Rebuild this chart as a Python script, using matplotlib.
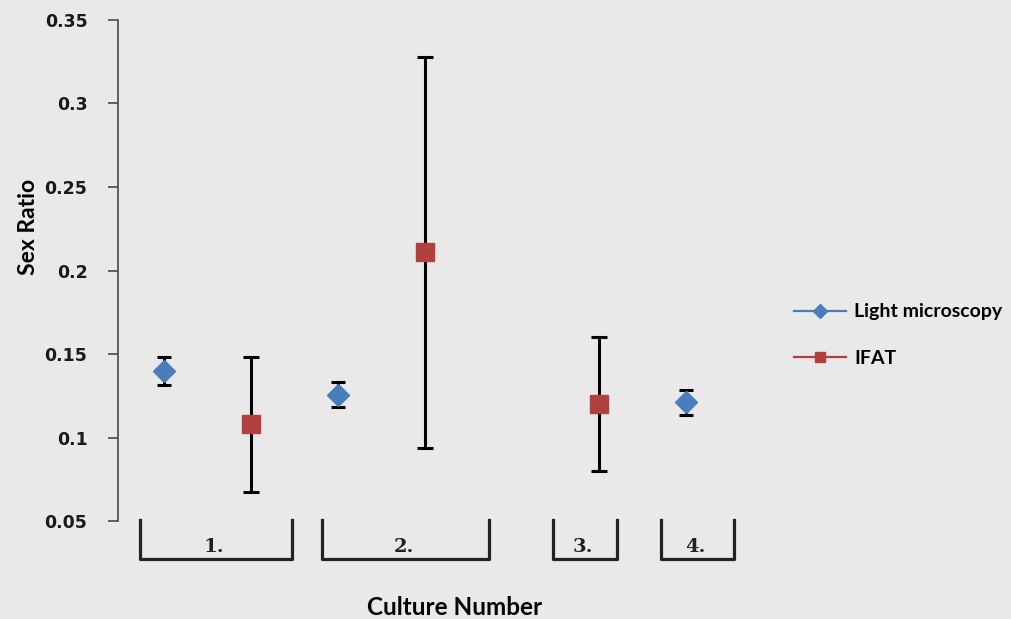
import numpy as np
import matplotlib
matplotlib.use('Agg')
from matplotlib import pyplot as plt

# chart data (blank cells -> nan, like the spreadsheet)
cultures = [1, 2, 3, 4, 5, 6, 7]
light = [0.140, np.nan, 0.1255, np.nan, np.nan, np.nan, 0.121]
light_err = [0.0085, np.nan, 0.0075, np.nan, np.nan, np.nan, 0.0077]
ifat = [np.nan, 0.108, np.nan, 0.211, np.nan, 0.120, np.nan]
ifat_err = [np.nan, 0.0405, np.nan, 0.117, np.nan, 0.040, np.nan]

groups = ['1.', '2.', '3.', '4.']
group_spans = [(0.72, 2.47), (2.82, 4.74), (5.47, 6.21), (6.71, 7.56)]

yticks = [0.05, 0.1, 0.15, 0.2, 0.25, 0.3, 0.35]
ytick_labels = ['0.05', '0.1', '0.15', '0.2', '0.25', '0.3', '0.35']

bg = '#e9e9e9'
blue = '#4a7ebb'
red = '#b0413e'

fig = plt.figure(figsize=(10.11, 6.19), dpi=100, facecolor=bg)
ax = fig.add_axes([0.1167, 0.1583, 0.602, 0.8094])
ax.set_facecolor(bg)

ax.errorbar(cultures, light, yerr=light_err, fmt='none', ecolor='black',
            elinewidth=2.2, capsize=5, capthick=2.2, zorder=2)
ax.errorbar(cultures, ifat, yerr=ifat_err, fmt='none', ecolor='black',
            elinewidth=2.2, capsize=6, capthick=2.2, zorder=2)
ax.plot(cultures, light, '-', color=blue, marker='D', markersize=11,
        markerfacecolor=blue, markeredgecolor=blue, lw=2, zorder=3,
        label='Light microscopy')
ax.plot(cultures, ifat, '-', color=red, marker='s', markersize=13,
        markerfacecolor=red, markeredgecolor=red, lw=2, zorder=3,
        label='IFAT')

ax.set_xlim(0.47, 7.47)
ax.set_ylim(0.05, 0.35)
ax.set_yticks(yticks)
ax.set_yticklabels(ytick_labels, fontsize=12.5, fontweight='bold',
                   family='DejaVu Sans', color='#1a1a1a')
ax.set_xticks([])
for s in ['top', 'right', 'bottom']:
    ax.spines[s].set_visible(False)
ax.spines['left'].set_color('#555555')
ax.spines['left'].set_linewidth(1.3)
ax.tick_params(axis='y', direction='out', length=7, width=1.3,
               color='#555555', pad=15)

ax.set_ylabel('Sex Ratio', fontsize=16.5, fontweight='bold', family='Lato')
ax.yaxis.set_label_coords(-0.13, 0.587)

# group brackets under the axis
y_top, y_bot, y_txt = 0.0505, 0.0272, 0.0345
for name, (x0, x1) in zip(groups, group_spans):
    ax.plot([x0, x0, x1, x1], [y_top, y_bot, y_bot, y_top], color='#222222',
            lw=2.3, clip_on=False, solid_joinstyle='round')
    ax.text((x0 + x1) / 2 - 0.02, y_txt, name, ha='center', va='center',
            fontsize=14, fontweight='bold', family='DejaVu Serif',
            color='#222222')

fig.text(0.45, 0.018, 'Culture Number', ha='center', va='center',
         fontsize=17.5, fontweight='bold', family='Lato')

leg = fig.legend(loc='upper left', bbox_to_anchor=(0.768, 0.538),
                 frameon=False, handlelength=2.7, handletextpad=0.4,
                 labelspacing=1.5, prop={'family': 'Lato', 'weight': 'bold',
                                         'size': 14})
for h in leg.legend_handles:
    h.set_markersize(7)
    h.set_linewidth(1.6)

fig.savefig('out.png', dpi=100, facecolor=bg)
